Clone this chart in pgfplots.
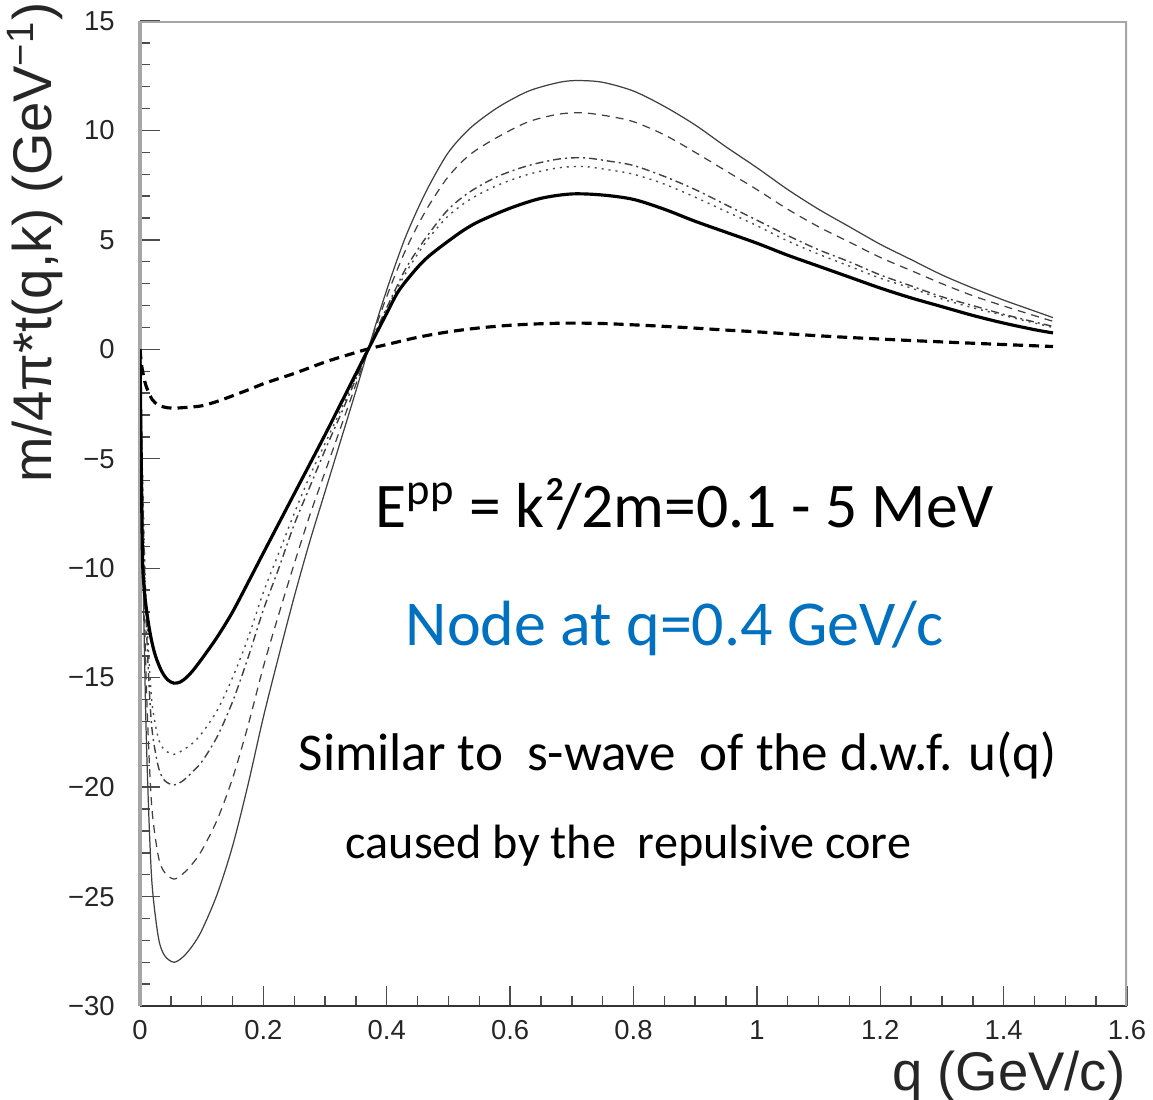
\documentclass[border=0pt]{standalone}
\usepackage{pgfplots}
\pgfplotsset{compat=1.18}
\usepackage{fontspec}
\setmainfont{Carlito}
\newfontfamily\helv{Liberation Sans}
\definecolor{nodeblue}{RGB}{0,112,192}

\begin{document}
\begin{tikzpicture}[x=1mm,y=1mm]
\path[use as bounding box] (-14,-9.3) rectangle (101.3,100.6);
\begin{axis}[
  at={(0,0)}, anchor=south west,
  scale only axis, width=98.7mm, height=98.5mm,
  xmin=0, xmax=1.6, ymin=-30, ymax=15,
  axis x line*=bottom, axis y line*=left,
  x axis line style={black!80, line width=0.5pt},
  y axis line style={black!35, line width=0.9pt},
  tick align=inside,
  major tick length=2mm, minor tick length=1mm,
  minor x tick num=3, minor y tick num=4,
  tick style={black!70, line width=0.4pt},
  xtick={0,0.2,0.4,0.6,0.8,1,1.2,1.4,1.6},
  xticklabels={0,0.2,0.4,0.6,0.8,1,1.2,1.4,1.6},
  ytick={-30,-25,-20,-15,-10,-5,0,5,10,15},
  yticklabels={−30,−25,−20,−15,−10,−5,0,5,10,15},
  ticklabel style={font=\helv\fontsize{7.8}{9}\selectfont, text=black!85},
  yticklabel style={xshift=-1.3mm},
  xticklabel style={yshift=-0.2mm},
]
% thin solid
\addplot[black!75, line width=0.35pt, smooth, tension=0.5] coordinates {
(0,0) (0.003,-6.5) (0.006,-12) (0.01,-17.5) (0.015,-21.8) (0.02,-24.6) (0.03,-26.9) (0.04,-27.7) (0.055,-28.0) (0.07,-27.75) (0.085,-27.25) (0.1,-26.55) (0.125,-24.9) (0.15,-22.7) (0.175,-19.9) (0.2,-16.8) (0.225,-14.0) (0.25,-11.3) (0.275,-8.8) (0.3,-6.5) (0.325,-4.2) (0.35,-1.9) (0.37,0) (0.39,1.85) (0.41,3.55) (0.43,5.1) (0.45,6.4) (0.47,7.55) (0.5,9.0) (0.535,10.1) (0.58,11.05) (0.63,11.8) (0.68,12.2) (0.71,12.28) (0.75,12.2) (0.8,11.8) (0.85,11.1) (0.9,10.25) (0.95,9.25) (1.0,8.3) (1.05,7.3) (1.1,6.4) (1.15,5.6) (1.2,4.8) (1.25,4.1) (1.3,3.4) (1.35,2.8) (1.4,2.25) (1.45,1.75) (1.48,1.45)
};
% thin dashed
\addplot[black!75, line width=0.35pt, smooth, tension=0.5, dash pattern=on 0.8mm off 0.6mm] coordinates {
(0,0) (0.003,-5.6) (0.006,-10.4) (0.01,-15.1) (0.015,-18.8) (0.02,-21.2) (0.03,-23.2) (0.04,-23.9) (0.055,-24.2) (0.07,-23.95) (0.085,-23.5) (0.1,-22.9) (0.125,-21.5) (0.15,-19.6) (0.175,-17.2) (0.2,-14.5) (0.225,-12.1) (0.25,-9.8) (0.275,-7.6) (0.3,-5.6) (0.325,-3.6) (0.35,-1.6) (0.37,0) (0.39,1.65) (0.41,3.15) (0.43,4.5) (0.45,5.65) (0.47,6.65) (0.5,7.9) (0.535,8.9) (0.58,9.7) (0.63,10.4) (0.68,10.75) (0.72,10.8) (0.76,10.65) (0.8,10.4) (0.85,9.8) (0.9,9.0) (0.95,8.15) (1.0,7.3) (1.05,6.4) (1.1,5.6) (1.15,4.9) (1.2,4.2) (1.25,3.6) (1.3,3.0) (1.35,2.45) (1.4,1.98) (1.45,1.54) (1.48,1.28)
};
% thin dash-dot
\addplot[black!75, line width=0.4pt, smooth, tension=0.5, dash pattern=on 0.8mm off 0.4mm on 0.2mm off 0.4mm] coordinates {
(0,0) (0.003,-4.6) (0.006,-8.5) (0.01,-12.4) (0.015,-15.5) (0.02,-17.5) (0.03,-19.1) (0.04,-19.7) (0.055,-19.9) (0.07,-19.7) (0.085,-19.3) (0.1,-18.85) (0.125,-17.7) (0.15,-16.1) (0.175,-14.1) (0.2,-11.9) (0.225,-10.0) (0.25,-8.0) (0.275,-6.3) (0.3,-4.6) (0.325,-3.0) (0.35,-1.35) (0.37,0) (0.39,1.3) (0.41,2.5) (0.43,3.65) (0.45,4.55) (0.47,5.35) (0.5,6.4) (0.535,7.2) (0.58,7.9) (0.63,8.4) (0.68,8.7) (0.72,8.75) (0.76,8.6) (0.8,8.4) (0.85,7.9) (0.9,7.3) (0.95,6.6) (1.0,5.9) (1.05,5.2) (1.1,4.55) (1.15,4.0) (1.2,3.4) (1.25,2.9) (1.3,2.4) (1.35,2.0) (1.4,1.6) (1.45,1.25) (1.48,1.05)
};
% thin dotted
\addplot[black!70, line width=0.4pt, smooth, tension=0.5, dash pattern=on 0.2mm off 0.5mm] coordinates {
(0,0) (0.003,-4.3) (0.006,-7.9) (0.01,-11.6) (0.015,-14.4) (0.02,-16.3) (0.03,-17.8) (0.04,-18.3) (0.055,-18.5) (0.07,-18.3) (0.085,-18.0) (0.1,-17.55) (0.125,-16.5) (0.15,-15.0) (0.175,-13.2) (0.2,-11.1) (0.225,-9.3) (0.25,-7.5) (0.275,-5.8) (0.3,-4.3) (0.325,-2.8) (0.35,-1.25) (0.37,0) (0.39,1.25) (0.41,2.4) (0.43,3.45) (0.45,4.35) (0.47,5.15) (0.5,6.1) (0.535,6.85) (0.58,7.5) (0.63,8.0) (0.68,8.3) (0.72,8.35) (0.76,8.2) (0.8,8.0) (0.85,7.55) (0.9,6.95) (0.95,6.3) (1.0,5.65) (1.05,4.95) (1.1,4.35) (1.15,3.8) (1.2,3.25) (1.25,2.8) (1.3,2.3) (1.35,1.9) (1.4,1.55) (1.45,1.2) (1.48,1.0)
};
% thick solid
\addplot[black, line width=0.9pt, smooth, tension=0.5] coordinates {
(0,0) (0.002,-5) (0.004,-9.5) (0.007,-11.0) (0.012,-12.2) (0.018,-13.2) (0.025,-14.0) (0.035,-14.7) (0.045,-15.1) (0.055,-15.25) (0.065,-15.2) (0.075,-15.0) (0.085,-14.7) (0.1,-14.15) (0.125,-13.15) (0.15,-12.0) (0.178,-10.5) (0.2,-9.3) (0.25,-6.6) (0.3,-3.9) (0.335,-1.95) (0.37,0) (0.4,1.65) (0.42,2.7) (0.45,3.75) (0.47,4.3) (0.5,4.95) (0.525,5.45) (0.55,5.85) (0.6,6.45) (0.65,6.9) (0.7,7.1) (0.75,7.05) (0.8,6.85) (0.85,6.4) (0.9,5.85) (0.95,5.35) (1.0,4.85) (1.05,4.3) (1.1,3.8) (1.15,3.3) (1.2,2.8) (1.25,2.35) (1.3,1.95) (1.35,1.55) (1.4,1.2) (1.45,0.9) (1.48,0.75)
};
% thick dashed
\addplot[black, line width=0.9pt, smooth, tension=0.5, dash pattern=on 1mm off 0.6mm] coordinates {
(0,0) (0.003,-0.8) (0.008,-1.5) (0.013,-1.9) (0.02,-2.3) (0.03,-2.55) (0.045,-2.67) (0.06,-2.68) (0.08,-2.64) (0.1,-2.58) (0.125,-2.38) (0.154,-2.08) (0.18,-1.8) (0.203,-1.54) (0.25,-1.1) (0.3,-0.58) (0.335,-0.27) (0.37,0.02) (0.4,0.22) (0.45,0.55) (0.5,0.8) (0.55,0.98) (0.6,1.1) (0.65,1.17) (0.7,1.2) (0.75,1.18) (0.8,1.12) (0.85,1.05) (0.9,0.97) (0.95,0.88) (1.0,0.8) (1.1,0.62) (1.2,0.47) (1.3,0.34) (1.4,0.22) (1.48,0.13)
};
\draw[black!35, line width=0.9pt] (rel axis cs:0,1) -- (rel axis cs:1,1) -- (rel axis cs:1,0);
\end{axis}
\node[rotate=90, anchor=east, font=\helv\fontsize{15.5}{17}\selectfont, text=black!85, inner sep=0pt] at (-10.5,100.4) {m/4π*t(q,k) (GeV\textsuperscript{−1})};
\node[anchor=east, font=\helv\fontsize{15.5}{17}\selectfont, text=black!85, inner sep=0pt] at (98.6,-7.0) {q (GeV/c)};
\node[anchor=base west, inner sep=0pt, font=\fontsize{18.1}{20}\selectfont] at (23.5,47.9) {E\textsuperscript{pp} = k²/2m=0.1 - 5 MeV};
\node[anchor=base west, inner sep=0pt, font=\fontsize{18.2}{20}\selectfont, text=nodeblue] at (26.5,36.1) {Node at q=0.4 GeV/c};
\node[anchor=base west, inner sep=0pt, font=\fontsize{15.1}{17}\selectfont] at (15.8,23.6) {Similar to~ s-wave~ of the d.w.f. u(q)};
\node[anchor=base west, inner sep=0pt, font=\fontsize{13.7}{16}\selectfont] at (20.5,14.8) {caused by the~ repulsive core};
\end{tikzpicture}
\end{document}
